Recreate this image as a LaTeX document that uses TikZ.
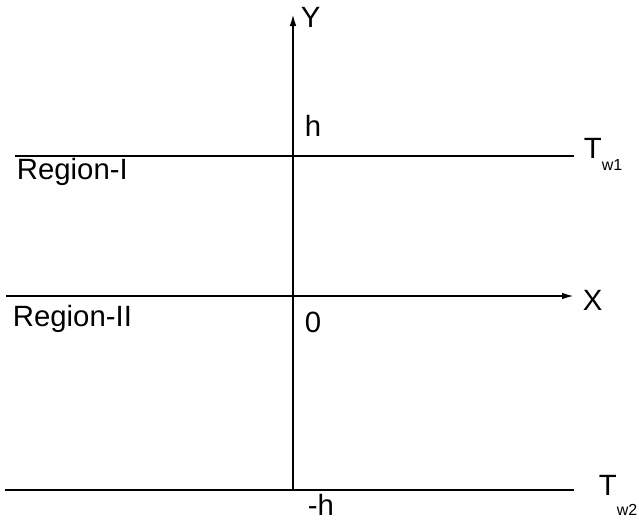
\documentclass[tikz,border=0pt]{standalone}
\usepackage{fontspec}
\setmainfont{Liberation Sans}
\usetikzlibrary{arrows.meta, positioning}
\tikzset{>={Latex[length=9pt, width=5pt]}}
\tikzset{lbl/.style={inner sep=0pt, anchor=base west, font=\fontsize{22}{26}\selectfont}}
\tikzset{sublbl/.style={inner sep=0pt, anchor=base west, font=\fontsize{12}{14}\selectfont}}

\begin{document}
\begin{tikzpicture}[x=0.75pt, y=-0.75pt, line width=1.4pt]
  \useasboundingbox (0,0) rectangle (639,522);
  % axes and walls
  \coordinate (ybot) at (293,490);
  \coordinate (ytip) at (293,14);
  \coordinate (xleft) at (6,296);
  \coordinate (xtip) at (574,296);
  \coordinate (topl) at (15,156);
  \coordinate (topr) at (574,156);
  \coordinate (botl) at (5,490);
  \coordinate (botr) at (574,490);
  \draw[->] (ybot) -- (ytip);
  \draw[->] (xleft) -- (xtip);
  \draw (topl) -- (topr);
  \draw (botl) -- (botr);
  % labels
  \node[lbl] (ylab) at (300,27) {Y};
  \node[lbl] (xlab) at (582,310) {X};
  \node[lbl] (hlab) at (304,136) {h};
  \node[lbl] (zerolab) at (304,332) {0};
  \node[lbl] (mhlab) at (307,515) {-h};
  \node[lbl] (regone) at (16,179) {Region-I};
  \node[lbl] (regtwo) at (12,326) {Region-II};
  \node[lbl] (tone) at (583,158) {T};
  \node[sublbl] (tonesub) at (601,170) {w1};
  \node[lbl] (ttwo) at (598,495) {T};
  \node[sublbl] (ttwosub) at (616,515) {w2};
\end{tikzpicture}
\end{document}
